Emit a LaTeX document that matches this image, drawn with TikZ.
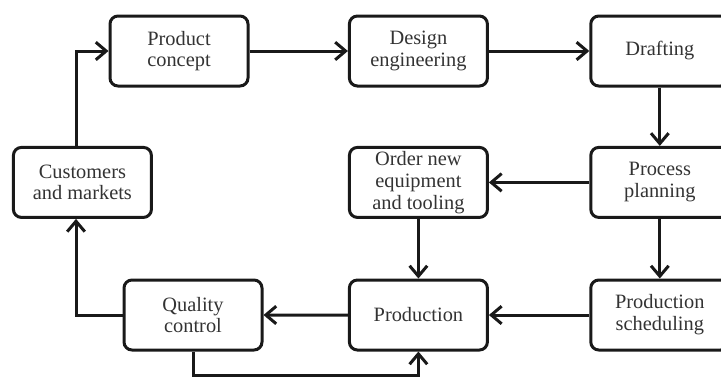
\documentclass[tikz,border=0pt]{standalone}
\usepackage{fontspec}
\setmainfont{Liberation Serif}
\usetikzlibrary{arrows.meta,positioning,calc}

\begin{document}
\begin{tikzpicture}[
    % Base styles for the process boxes
    every node/.style={font=\fontsize{14.5}{15.5}\selectfont, text=black!80},
    box/.style={draw=black!90, line width=0.075cm, rounded corners=0.2cm,
        minimum width=3.45cm, minimum height=1.75cm, inner sep=1pt,
        align=center},
    flow/.style={draw=black!90, line width=0.075cm,
        -{Straight Barb[length=2.6mm, width=4.4mm]}},
    node distance=2.46cm
]
% picture frame (the right column is cut off)
\useasboundingbox (0,0) rectangle (18.025,-9.4);
\clip (0,0) rectangle (18.025,-9.4);

% ==================== TOP ROW ====================
\node[box] (concept) at (4.475,-1.275) {Product\\concept};
\node[box, right=of concept] (design) {Design\\engineering};
\node[box, right=2.51cm of design] (drafting) {Drafting};

% ==================== MIDDLE ROW ====================
\node[box] (customers) at (2.06,-4.56) {Customers\\and markets};
\node[box, below=1.46cm of design] (order) {Order new\\equipment\\and tooling};
\node[box, below=1.46cm of drafting] (planning) {Process\\planning};

% ==================== BOTTOM ROW ====================
\node[box, below=1.49cm of order] (production) {Production};
\node[box, below=1.49cm of planning] (scheduling) {Production\\scheduling};
\node[box] (quality) at (4.825,-7.875) {Quality\\control};

% ==================== CONNECTIONS ====================
\draw[flow] ([xshift=-0.16cm]customers.north) |- (concept.west);
\foreach \a/\b in {concept/design, design/drafting, planning/order, scheduling/production, production/quality}
    \draw[flow] (\a) -- (\b);
\foreach \a/\b in {drafting/planning, planning/scheduling, order/production}
    \draw[flow] (\a.south) -- (\b.north);
\draw[flow] (quality.west) -| ([xshift=-0.16cm]customers.south);
% feedback below the bottom row
\draw[flow] (quality.south) -- ++(0,-0.6) coordinate (qbottom) -| (production.south);

\end{tikzpicture}
\end{document}
